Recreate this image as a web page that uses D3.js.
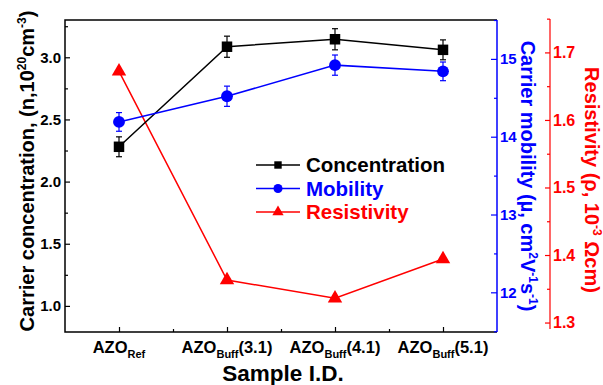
<!DOCTYPE html>
<html>
<head>
<meta charset="utf-8">
<style>
body { margin: 0; background: #fff; }
svg text { font-family: "Liberation Sans", Arial, sans-serif; font-weight: bold; }
</style>
</head>
<body>
<div id="container"></div>
<script src="https://d3js.org/d3.v7.min.js"></script>
<script>
// Data
const samples = ["Ref", "3.1", "4.1", "5.1"];
const concentration = [2.28, 3.085, 3.145, 3.06];
const concErr = [0.08, 0.085, 0.085, 0.08];
const mobility = [14.19, 14.52, 14.92, 14.84];
const mobErr = [0.12, 0.13, 0.13, 0.12];
const resistivity = [1.672, 1.363, 1.336, 1.394];

const leftTicks = [1.0, 1.5, 2.0, 2.5, 3.0];
const blueTicks = [12, 13, 14, 15];
const redTicks = [1.3, 1.4, 1.5, 1.6, 1.7];

const width = 603, height = 385;
const marginLeft = 65, marginRight = 106, marginTop = 20, marginBottom = 53;
const plotRight = width - marginRight;
const plotBottom = height - marginBottom;
const blue = "#0000ff", red = "#ff0000";

const x = d3.scaleLinear().domain([0.5, 4.5]).range([marginLeft, plotRight]);
const yC = d3.scaleLinear().domain([0.79, 3.30]).range([plotBottom, marginTop]);
const yM = d3.scaleLinear().domain([11.49, 15.5]).range([plotBottom, marginTop]);
const yR = d3.scaleLinear().domain([1.286, 1.748]).range([plotBottom, marginTop]);

const svg = d3.create("svg").attr("width", width).attr("height", height);

// frame
svg.append("path")
    .attr("d", `M${plotRight},${marginTop}H${marginLeft}V${plotBottom}H${plotRight}`)
    .attr("fill", "none").attr("stroke", "#000").attr("stroke-width", 1.5);

// left axis
const gL = svg.append("g").attr("transform", `translate(${marginLeft},0)`);
gL.call(d3.axisRight(yC).tickValues(d3.range(1.0, 3.26, 0.25)).tickSize(5).tickFormat(""));
gL.call(g => g.select(".domain").remove());
gL.selectAll(".tick line").attr("x2", d => Math.abs(d * 2 % 1) < 1e-6 ? 5 : 3).attr("stroke-width", 1.2);
gL.selectAll(".lab").data(leftTicks).join("text")
    .attr("x", -4).attr("y", d => yC(d)).attr("dy", "0.36em").attr("fill", "#000")
    .attr("text-anchor", "end").attr("font-size", 15).text(d => d.toFixed(1));

// bottom axis
const gB = svg.append("g").attr("transform", `translate(0,${plotBottom})`);
gB.call(d3.axisTop(x).tickValues([1, 1.5, 2, 2.5, 3, 3.5, 4]).tickFormat(""));
gB.call(g => g.select(".domain").remove());
gB.selectAll(".tick line").attr("y2", d => Number.isInteger(d) ? -5 : -3).attr("stroke-width", 1.2);

const xl = svg.append("g");
samples.forEach((s, i) => {
  const t = xl.append("text").attr("x", x(i + 1)).attr("y", 353)
      .attr("text-anchor", "middle").attr("font-size", 16.5);
  t.append("tspan").text("AZO");
  if (s === "Ref") {
    t.append("tspan").attr("font-size", 11).attr("dy", 5).text("Ref");
  } else {
    t.append("tspan").attr("font-size", 11).attr("dy", 5).text("Buff");
    t.append("tspan").attr("dy", -5).text(`(${s})`);
  }
});
svg.append("text").attr("x", 283).attr("y", 381).attr("text-anchor", "middle")
    .attr("font-size", 22.5).text("Sample I.D.");

// blue axis
svg.append("line").attr("x1", plotRight).attr("x2", plotRight)
    .attr("y1", marginTop).attr("y2", plotBottom).attr("stroke", blue).attr("stroke-width", 1.5);
const gM = svg.append("g").attr("transform", `translate(${plotRight},0)`);
gM.call(d3.axisLeft(yM).tickValues(d3.range(11.5, 15.6, 0.5)).tickFormat(""));
gM.call(g => g.select(".domain").remove());
gM.selectAll(".tick line").attr("x2", d => Number.isInteger(d) ? -6 : -3)
    .attr("stroke", blue).attr("stroke-width", 1.2);
gM.selectAll(".lab").data(blueTicks).join("text")
    .attr("x", 3).attr("y", d => yM(d)).attr("dy", "0.36em").attr("text-anchor", "start")
    .attr("fill", blue).attr("font-size", 15).text(d => d);

// red axis
const redX = 550;
svg.append("line").attr("x1", redX).attr("x2", redX)
    .attr("y1", marginTop - 1).attr("y2", plotBottom - 3).attr("stroke", red).attr("stroke-width", 1.2);
const gR = svg.append("g").attr("transform", `translate(${redX},0)`);
gR.call(d3.axisLeft(yR).tickValues(d3.range(1.3, 1.76, 0.05)).tickFormat(""));
gR.call(g => g.select(".domain").remove());
gR.selectAll(".tick line").attr("x2", (d, i) => i % 2 === 0 ? -5 : -3)
    .attr("stroke", red).attr("stroke-width", 1.2);
gR.selectAll(".lab").data(redTicks).join("text")
    .attr("x", 3).attr("y", d => yR(d)).attr("dy", "0.36em").attr("text-anchor", "start")
    .attr("fill", red).attr("font-size", 16).text(d => d.toFixed(1));

// axis titles
const tL = svg.append("text").attr("transform", `translate(34,${(marginTop + plotBottom) / 2 - 5}) rotate(-90)`)
    .attr("text-anchor", "middle").attr("font-size", 20);
tL.append("tspan").text("Carrier concentration, (n,10");
tL.append("tspan").attr("font-size", 12).attr("dy", -8).text("20");
tL.append("tspan").attr("dy", 8).text("cm");
tL.append("tspan").attr("font-size", 12).attr("dy", -8).text("-3");
tL.append("tspan").attr("dy", 8).text(")");

const tM = svg.append("text").attr("transform", `translate(521,${(marginTop + plotBottom) / 2}) rotate(90)`)
    .attr("text-anchor", "middle").attr("font-size", 20).attr("fill", blue);
tM.append("tspan").text("Carrier mobility (\u00b5, cm");
tM.append("tspan").attr("font-size", 12).attr("dy", -8).text("2");
tM.append("tspan").attr("dy", 8).text("V");
tM.append("tspan").attr("font-size", 12).attr("dy", -8).text("-1");
tM.append("tspan").attr("dy", 8).text("s");
tM.append("tspan").attr("font-size", 12).attr("dy", -8).text("-1");
tM.append("tspan").attr("dy", 8).text(")");

const tR = svg.append("text").attr("transform", `translate(585,${(marginTop + plotBottom) / 2 + 4}) rotate(90)`)
    .attr("text-anchor", "middle").attr("font-size", 20).attr("fill", red);
tR.append("tspan").text("Resistivity (\u03c1, 10");
tR.append("tspan").attr("font-size", 12).attr("dy", -8).text("-3");
tR.append("tspan").attr("dy", 8).text(" \u03a9cm)");

// series
function errorBars(vals, errs, y, color) {
  const g = svg.append("g").attr("stroke", color).attr("stroke-width", 1.2);
  vals.forEach((v, i) => {
    const cx = x(i + 1);
    g.append("line").attr("x1", cx).attr("x2", cx).attr("y1", y(v - errs[i])).attr("y2", y(v + errs[i]));
    [v - errs[i], v + errs[i]].forEach(e =>
      g.append("line").attr("x1", cx - 3).attr("x2", cx + 3).attr("y1", y(e)).attr("y2", y(e)));
  });
}
function seriesLine(vals, y, color) {
  svg.append("path").attr("fill", "none").attr("stroke", color).attr("stroke-width", 1.5)
      .attr("d", d3.line().x((d, i) => x(i + 1)).y(d => y(d))(vals));
}

errorBars(concentration, concErr, yC, "#000");
errorBars(mobility, mobErr, yM, blue);
seriesLine(resistivity, yR, red);
seriesLine(concentration, yC, "#000");
seriesLine(mobility, yM, blue);

const sym = (type, size) => d3.symbol().type(type).size(size)();
svg.append("g").selectAll("path").data(concentration).join("path")
    .attr("transform", (d, i) => `translate(${x(i + 1)},${yC(d)})`)
    .attr("d", sym(d3.symbolSquare, 110)).attr("fill", "#000");
svg.append("g").selectAll("path").data(mobility).join("path")
    .attr("transform", (d, i) => `translate(${x(i + 1)},${yM(d)})`)
    .attr("d", sym(d3.symbolCircle, 110)).attr("fill", blue);
svg.append("g").selectAll("path").data(resistivity).join("path")
    .attr("transform", (d, i) => `translate(${x(i + 1)},${yR(d)})`)
    .attr("d", sym(d3.symbolTriangle, 90)).attr("fill", red);

// legend
const legend = [
  {name: "Concentration", color: "#000", type: d3.symbolSquare, size: 55},
  {name: "Mobility", color: blue, type: d3.symbolCircle, size: 65},
  {name: "Resistivity", color: red, type: d3.symbolTriangle, size: 55}
];
const lg = svg.append("g");
legend.forEach((d, i) => {
  const cy = 165 + i * 23.5;
  lg.append("line").attr("x1", 256).attr("x2", 300).attr("y1", cy).attr("y2", cy)
      .attr("stroke", d.color).attr("stroke-width", 1.3);
  lg.append("path").attr("transform", `translate(278,${cy})`)
      .attr("d", sym(d.type, d.size)).attr("fill", d.color);
  lg.append("text").attr("x", 306).attr("y", cy).attr("dy", "0.36em")
      .attr("font-size", 20.5).attr("fill", d.color).text(d.name);
});

container.append(svg.node());
</script>
</body>
</html>
